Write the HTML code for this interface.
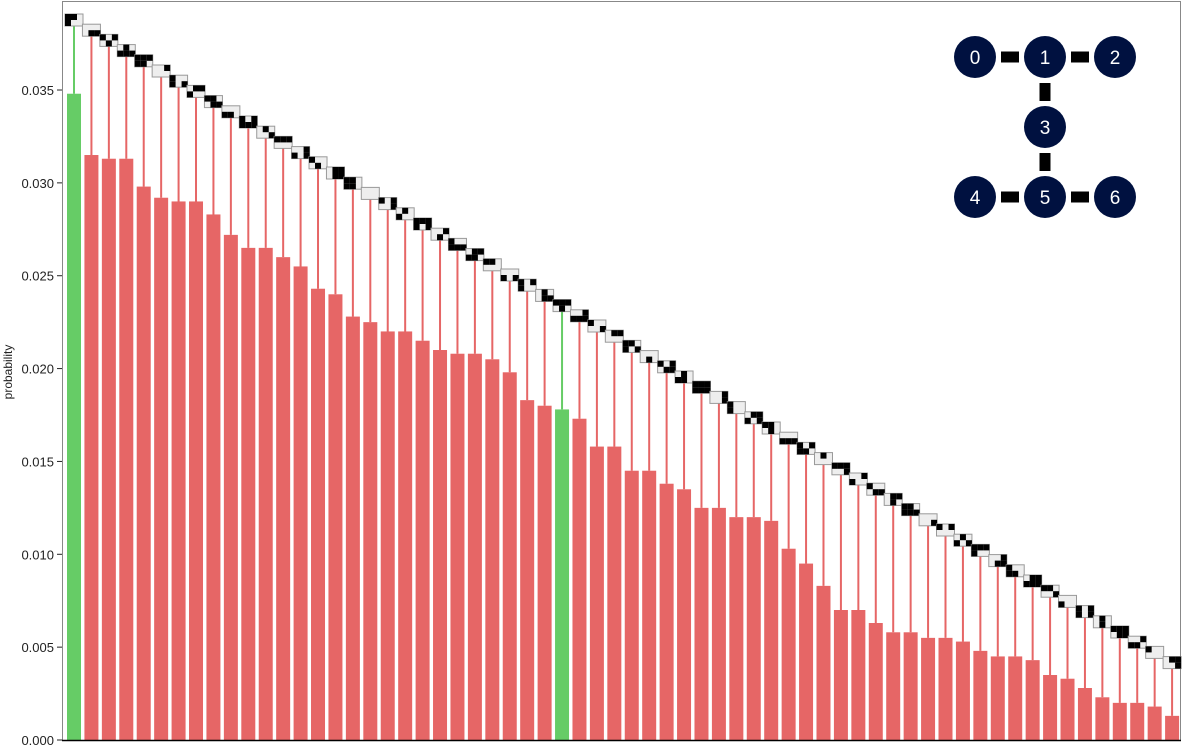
<!DOCTYPE html>
<html><head><meta charset="utf-8"><style>
body{margin:0;background:#fff;}
svg{display:block;font-family:"Liberation Sans",sans-serif;}
</style></head><body>
<svg id="chart" width="1182" height="746">
<rect x="62.5" y="1.5" width="1118" height="739" fill="none" stroke="#888" stroke-width="1"/>
<g id="bars"></g><g id="glyphs"></g><g id="axis"></g>
<text x="12" y="372" font-size="12" fill="#222" text-anchor="middle" transform="rotate(-90 12 372)">probability</text>
<g id="graph"></g>
</svg>
<script>
const probs=[0.0348,0.0315,0.0313,0.0313,0.0298,0.0292,0.0290,0.0290,0.0283,0.0272,0.0265,0.0265,0.0260,0.0255,0.0243,0.0240,0.0228,0.0225,0.0220,0.0220,0.0215,0.0210,0.0208,0.0208,0.0205,0.0198,0.0183,0.0180,0.0178,0.0173,0.0158,0.0158,0.0145,0.0145,0.0138,0.0135,0.0125,0.0125,0.0120,0.0120,0.0118,0.0103,0.0095,0.0083,0.0070,0.0070,0.0063,0.0058,0.0058,0.0055,0.0055,0.0053,0.0048,0.0045,0.0045,0.0043,0.0035,0.0033,0.0028,0.0023,0.0020,0.0020,0.0018,0.0013];
const highlighted=[0,28];
const yTicks=[0,0.005,0.01,0.015,0.02,0.025,0.03,0.035];
const NS="http://www.w3.org/2000/svg";
const y=v=>740-v*18571;
const x=i=>67+i*17.43;
function mk(t,a,p){const e=document.createElementNS(NS,t);for(const k in a)e.setAttribute(k,a[k]);p.appendChild(e);return e;}
const bars=document.getElementById('bars'),gl=document.getElementById('glyphs'),ax=document.getElementById('axis');
probs.forEach((v,i)=>{
  const good=highlighted.includes(i);
  const col=good?'#66cc66':'#e66666';
  const r=mk('rect',{x:x(i),y:y(v),width:14,height:740-y(v),fill:col},bars);
  
  
  const by=14+i*10.2, bx=x(i)-2;
  const st=mk('line',{x1:x(i)+7,x2:x(i)+7,y1:by+12,y2:y(v),stroke:col,'stroke-width':2},bars);
  
  
  const g=mk('g',{},gl);
  
  
  mk('rect',{x:bx,y:by,width:18,height:12,fill:'#eee',stroke:'#999','stroke-width':1},g);
  const code=(i*37+11)%64+(i%3?0:64);
  for(let c=0;c<6;c++){if((code>>c)&1){mk('rect',{x:bx+(c%3)*6,y:by+Math.floor(c/3)*6,width:6,height:6,fill:'#000'},g);}}
});
yTicks.forEach(t=>{
  mk('line',{x1:57,x2:62,y1:y(t),y2:y(t),stroke:'#222'},ax);
  const tx=mk('text',{x:54,y:y(t)+5,'font-size':13,fill:'#222','text-anchor':'end'},ax);
  tx.textContent=t.toFixed(3);
  
  
});
mk('line',{x1:62,x2:1181,y1:740.5,y2:740.5,stroke:'#000','stroke-width':1.5},ax);
const gph=document.getElementById('graph');
const nodes=[[975,57],[1045,57],[1115,57],[1045,127],[975,197],[1045,197],[1115,197]];
const edges=[[0,1],[1,2],[1,3],[3,5],[4,5],[5,6]];
edges.forEach(([a,b])=>{
  const [x1,y1]=nodes[a],[x2,y2]=nodes[b];
  const L=Math.hypot(x2-x1,y2-y1),ux=(x2-x1)/L,uy=(y2-y1)/L,g=26;
  const e=mk('line',{x1:x1+ux*g,y1:y1+uy*g,x2:x2-ux*g,y2:y2-uy*g,stroke:'#000','stroke-width':11},gph);
  
  
});
nodes.forEach((n,i)=>{
  const c=mk('circle',{cx:n[0],cy:n[1],r:21,fill:'#001140'},gph);
  
  
  const t=mk('text',{x:n[0],y:n[1]+7,'font-size':19,fill:'#fff','text-anchor':'middle'},gph);
  t.textContent=i;
});
</script>
</body></html>
